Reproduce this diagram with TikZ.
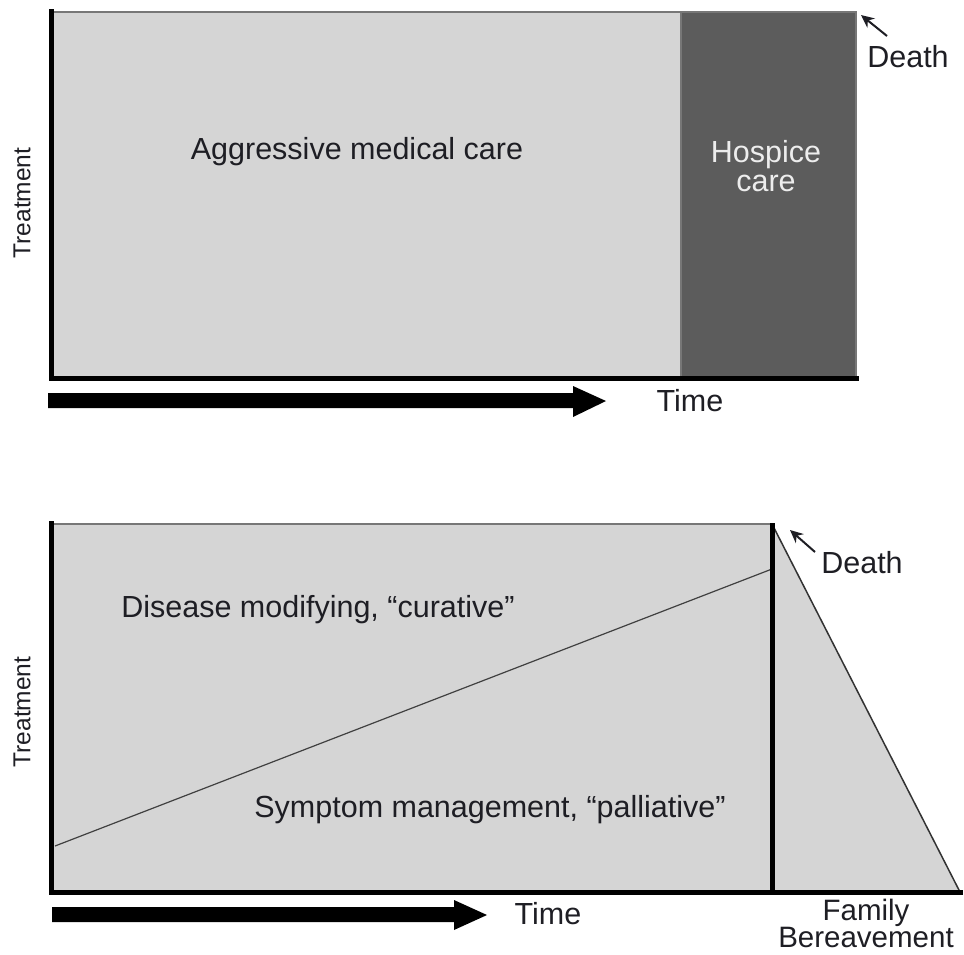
\documentclass[tikz,border=0pt]{standalone}
\usepackage{fontspec}
\setmainfont{Liberation Sans}
\definecolor{lightfill}{HTML}{D5D5D5}
\definecolor{darkfill}{HTML}{5C5C5C}
\definecolor{txt}{HTML}{1E1E24}
\definecolor{rim}{HTML}{777777}
\usetikzlibrary{arrows.meta}
\tikzset{
  lbl/.style={font=\fontsize{30.5}{28}\selectfont, text=txt, inner sep=0pt},
  axisline/.style={line width=5pt, black, line cap=rect},
  rimline/.style={line width=1.5pt, rim},
  blockarrow/.style={fill=black, draw=none},
  deatharrow/.style={-{Stealth[length=13pt,width=12pt]}, line width=2pt, txt},
}
\begin{document}
\begin{tikzpicture}[x=1pt,y=-1pt]
\useasboundingbox (0,0) rectangle (964,954);
% ---------- top panel ----------
\fill[lightfill] (51,12) rectangle (681,378);
\fill[darkfill] (681,12) rectangle (856,378);
\draw[rimline] (51,12) -- (856,12) -- (856,378);
\draw[rimline] (681,12) -- (681,378);
\draw[axisline] (51,11) -- (51,378) -- (856,378);
\fill[blockarrow] (48,393) -- (573,393) -- (573,386) -- (606,401) -- (573,417) -- (573,408) -- (48,408) -- cycle;
\node[lbl] (agg) at (357,152) {Aggressive medical care};
\node[lbl, text=white!93!black, align=center, font=\fontsize{30.5}{29}\selectfont] (hosp) at (766,166) {Hospice\\care};
\node[lbl] (time1) at (690,401) {Time};
\node[lbl] (death1) at (908,57) {Death};
\coordinate (d1from) at (887,36);
\coordinate (d1to) at (861,15);
\draw[deatharrow] (d1from) -- (d1to);
\node[lbl, rotate=90, font=\fontsize{24.5}{26}\selectfont] (treat1) at (22,203) {Treatment};
% ---------- bottom panel ----------
\fill[lightfill] (51,524) -- (772,524) -- (960,892) -- (51,892) -- cycle;
\draw[rimline] (51,524) -- (772,524);
\draw[line width=1.5pt, black!80] (772,524) -- (960,892);
\draw[line width=1.2pt, black!75] (55,846) -- (772,569);
\draw[line width=5pt, black] (772,523) -- (772,892);
\draw[axisline] (51,523) -- (51,892) -- (960,892);
\fill[blockarrow] (52,907) -- (454,907) -- (454,900) -- (487,915) -- (454,930) -- (454,922) -- (52,922) -- cycle;
\node[lbl] (cur) at (318,610) {Disease modifying, “curative”};
\node[lbl] (pal) at (490,810) {Symptom management, “palliative”};
\node[lbl] (time2) at (548,914) {Time};
\node[lbl, align=center, font=\fontsize{29.5}{27}\selectfont] (fam) at (866,923) {Family\\Bereavement};
\node[lbl] (death2) at (862,563) {Death};
\coordinate (d2from) at (815,552);
\coordinate (d2to) at (790,530);
\draw[deatharrow] (d2from) -- (d2to);
\node[lbl, rotate=90, font=\fontsize{24.5}{26}\selectfont] (treat2) at (22,712) {Treatment};
\end{tikzpicture}
\end{document}
